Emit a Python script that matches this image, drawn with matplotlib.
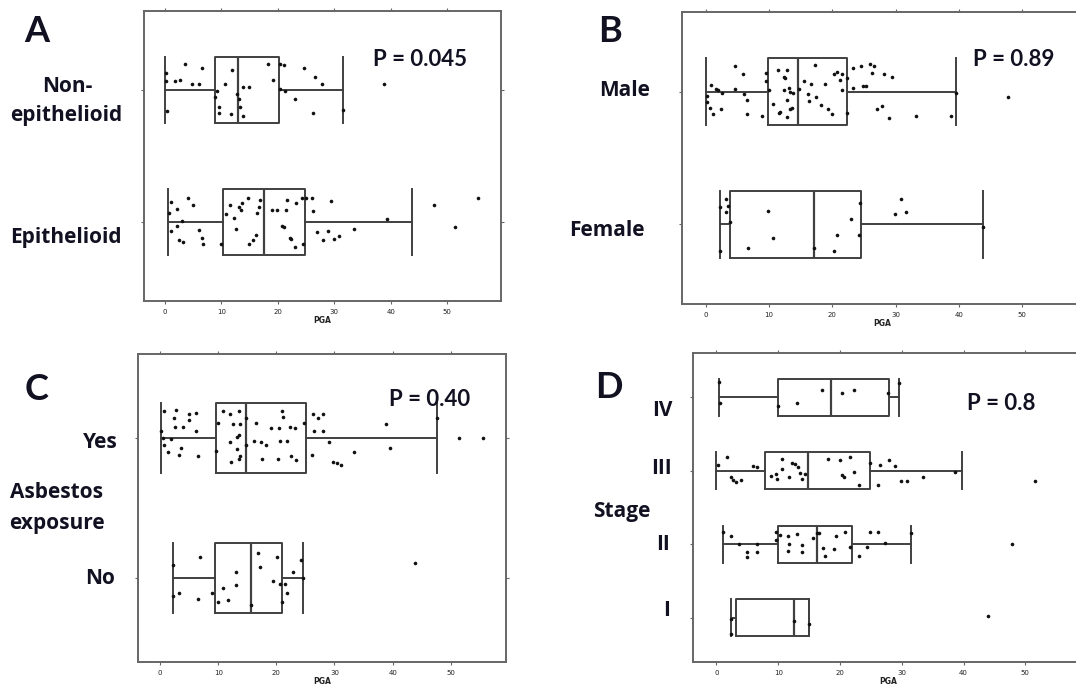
"""PGA by clinical group: four horizontal box plots with jittered patient values."""

import matplotlib
matplotlib.use("Agg")
import matplotlib.pyplot as plt
import numpy as np

W, H = 1076, 693

# box stats per group: [lower whisker, Q1, median, Q3, upper whisker]
A_EPI_BOX = [0.6, 10.3, 17.5, 24.8, 43.7]
A_EPI_X = [1.0, 0.8, 2.2, 4.0, 4.9, 3.1, 1.1, 2.2, 2.5, 3.2, 6.0, 6.5, 6.8, 9.9, 11.6, 10.8, 12.2, 12.5,
           13.1, 13.5, 13.7, 14.7, 14.9, 15.6, 16.1, 16.3, 16.6, 16.9, 19.0, 19.8, 21.4, 21.6, 23.2, 20.8,
           21.0, 22.2, 22.4, 23.1, 24.4, 24.2, 24.9, 26.1, 26.3, 26.9, 27.9, 28.9, 29.4, 29.9, 30.9, 33.4,
           39.4, 47.6, 55.4, 51.4]
A_EPI_JIT = [0.15, 0.07, 0.10, 0.18, 0.13, 0.01, -0.07, -0.03, -0.14, -0.15, -0.06, -0.12, -0.17, -0.17,
             0.13, 0.06, 0.03, -0.05, 0.11, 0.09, 0.14, 0.18, -0.17, -0.14, -0.10, 0.07, 0.11, 0.17, 0.09,
             0.09, 0.09, 0.17, 0.14, -0.03, -0.04, -0.12, -0.13, -0.19, -0.17, 0.18, 0.18, 0.18, 0.08,
             -0.08, -0.14, -0.07, 0.16, -0.13, -0.11, -0.05, 0.02, 0.13, 0.18, -0.04]

A_NON_BOX = [0.0, 8.8, 12.9, 20.2, 31.5]
A_NON_X = [3.6, 6.5, 0.1, 0.1, 1.7, 2.6, 4.8, 6.0, 0.4, 11.9, 10.7, 9.2, 8.9, 12.8, 13.1, 9.5, 9.5, 11.7,
           13.2, 13.9, 13.9, 14.8, 18.2, 20.3, 21.0, 19.2, 20.4, 21.2, 23.0, 24.6, 26.5, 27.8, 26.2, 31.5,
           38.8]
A_NON_JIT = [0.20, 0.17, 0.13, 0.07, 0.07, 0.08, 0.05, 0.05, -0.16, 0.15, 0.05, -0.01, -0.05, -0.03, -0.07,
             -0.13, -0.17, -0.18, -0.13, -0.20, 0.02, 0.02, 0.20, 0.20, 0.19, 0.08, 0.01, -0.01, -0.07,
             0.17, 0.10, 0.05, -0.17, -0.15, 0.05]

B_FEM_BOX = [2.2, 3.9, 17.1, 24.5, 43.8]
B_FEM_X = [2.3, 3.2, 3.2, 3.6, 3.8, 2.2, 9.9, 10.7, 6.7, 17.1, 20.3, 20.7, 22.9, 24.4, 24.3, 29.9, 30.9,
           31.6, 43.8]
B_FEM_JIT = [0.13, 0.19, 0.09, 0.14, 0.02, -0.20, 0.10, -0.10, -0.18, -0.18, -0.20, -0.08, 0.04, 0.16,
             -0.08, 0.08, 0.19, 0.09, -0.02]

B_MALE_BOX = [0.05, 9.8, 14.6, 22.4, 39.6]
B_MALE_X = [4.7, 5.9, 0.8, 1.7, 2.0, 2.6, 0.2, 0.2, 0.7, 1.1, 2.4, 4.7, 6.1, 6.5, 6.5, 8.9, 9.6, 9.6, 10.0,
            10.7, 11.5, 12.3, 12.6, 12.9, 12.4, 13.2, 13.4, 12.9, 13.7, 13.3, 11.8, 11.6, 12.9, 13.8, 14.7,
            15.6, 16.7, 17.3, 16.2, 16.4, 17.5, 18.2, 18.8, 19.4, 20.0, 20.3, 20.8, 21.2, 21.5, 21.6, 22.4,
            22.4, 23.2, 23.3, 24.6, 24.9, 25.3, 25.9, 26.2, 26.6, 28.1, 29.5, 27.0, 27.9, 28.9, 33.3, 38.8,
            39.5, 47.8]
B_MALE_JIT = [0.19, 0.13, 0.05, 0.02, 0.01, -0.01, -0.03, -0.08, -0.12, -0.17, -0.13, 0.02, -0.02, -0.06,
              -0.17, -0.18, 0.14, 0.08, 0.01, -0.09, 0.16, 0.11, 0.10, 0.16, 0.01, 0.03, 0.0, -0.06, -0.12,
              -0.13, -0.15, -0.16, -0.19, -0.01, 0.02, 0.08, 0.06, 0.20, -0.02, -0.07, -0.04, -0.10, 0.06,
              -0.13, -0.17, 0.13, 0.15, 0.09, 0.13, 0.01, 0.10, -0.16, 0.03, 0.18, 0.19, 0.04, 0.04, 0.21,
              0.14, 0.19, 0.13, 0.11, -0.13, -0.11, -0.20, -0.18, -0.18, -0.01, -0.04]

C_NO_BOX = [2.2, 9.5, 15.6, 20.9, 24.5]
C_NO_X = [2.3, 2.2, 3.3, 6.8, 6.6, 8.9, 9.9, 10.8, 11.6, 13.1, 13.1, 15.7, 16.8, 17.2, 20.1, 19.4, 20.6,
          21.5, 21.8, 20.9, 22.9, 24.3, 24.5, 43.9]
C_NO_JIT = [0.09, -0.13, -0.11, 0.15, -0.15, -0.11, -0.17, -0.07, -0.16, 0.04, -0.05, -0.19, 0.18, 0.08,
            0.15, -0.02, -0.04, -0.04, -0.11, -0.17, 0.04, 0.13, 0.0, 0.11]

C_YES_BOX = [0.1, 9.6, 14.8, 25.1, 47.7]
C_YES_X = [0.6, 2.7, 5.0, 6.1, 2.4, 4.9, 2.5, 4.0, 6.1, 0.2, 0.5, 1.8, 0.6, 1.3, 3.3, 3.6, 6.6, 10.0, 10.8,
           12.0, 13.6, 12.5, 13.8, 13.5, 13.2, 12.0, 13.2, 13.8, 13.5, 12.2, 9.6, 14.8, 14.8, 16.5, 16.2,
           17.4, 18.2, 17.5, 19.1, 20.4, 20.2, 20.9, 21.2, 20.6, 21.8, 22.4, 23.2, 22.5, 23.3, 24.7, 26.3,
           27.1, 28.0, 26.5, 28.1, 26.1, 29.0, 29.7, 30.4, 31.2, 33.4, 38.9, 39.6, 47.7, 51.5, 55.5]
C_YES_JIT = [0.19, 0.20, 0.17, 0.18, 0.14, 0.13, 0.08, 0.08, 0.05, 0.05, 0.0, -0.01, -0.05, -0.10, -0.12,
             -0.07, -0.13, 0.11, 0.19, 0.17, 0.19, 0.10, 0.10, 0.02, 0.01, -0.03, -0.08, -0.13, -0.15, -0.17,
             -0.09, 0.14, -0.05, 0.11, -0.02, -0.03, -0.05, -0.15, 0.07, 0.07, -0.15, 0.19, 0.15, -0.02,
             -0.02, 0.08, 0.07, -0.13, -0.16, 0.11, 0.17, 0.14, 0.17, 0.05, 0.05, -0.12, -0.03, -0.17, -0.18,
             -0.19, -0.10, 0.10, -0.07, 0.14, 0.0, 0.0]

D_I_BOX = [2.3, 3.2, 12.5, 14.9, 14.9]
D_I_X = [2.3, 2.3, 12.5, 14.9, 43.9]
D_I_JIT = [-0.22, -0.01, -0.04, -0.09, 0.03]

D_II_BOX = [1.1, 10.0, 16.2, 21.9, 31.5]
D_II_X = [1.1, 2.3, 3.6, 4.9, 4.9, 6.5, 6.5, 9.7, 9.6, 10.3, 11.6, 13.1, 11.7, 13.8, 11.5, 13.8, 16.2, 16.6,
          15.7, 19.3, 20.8, 17.3, 19.0, 17.6, 21.6, 23.1, 24.3, 24.9, 26.2, 27.3, 31.5, 47.8]
D_II_JIT = [0.17, 0.11, 0.0, -0.10, -0.17, -0.11, 0.0, 0.17, 0.06, 0.12, 0.11, 0.14, 0.01, -0.01, -0.09,
            -0.11, 0.15, 0.15, 0.08, 0.11, 0.17, -0.05, -0.07, -0.16, -0.04, -0.16, -0.04, 0.17, 0.17, 0.02,
            0.15, 0.0]

D_III_BOX = [0.0, 7.9, 14.8, 24.9, 39.7]
D_III_X = [1.7, 0.3, 2.3, 2.6, 3.1, 3.9, 5.9, 6.6, 8.8, 9.6, 9.8, 10.6, 10.6, 11.7, 12.2, 12.7, 13.2, 13.5,
           13.9, 14.3, 18.1, 20.0, 21.6, 20.3, 20.6, 22.3, 23.0, 24.9, 26.1, 26.5, 28.0, 28.9, 29.9, 30.9,
           33.5, 38.6, 51.6]
D_III_JIT = [0.18, 0.08, -0.08, -0.12, -0.16, -0.12, 0.07, 0.05, -0.07, -0.05, -0.11, 0.16, 0.03, -0.09,
             0.11, 0.09, 0.05, -0.03, -0.11, -0.05, 0.16, 0.15, 0.19, -0.06, -0.09, -0.02, -0.19, 0.11,
             -0.19, 0.08, 0.14, 0.07, -0.14, -0.14, -0.08, -0.02, -0.14]

D_IV_BOX = [0.4, 10.0, 18.6, 28.0, 29.6]
D_IV_X = [0.4, 0.6, 13.0, 17.1, 20.3, 22.2, 27.8, 29.6, 10.0]
D_IV_JIT = [0.21, -0.08, -0.08, 0.10, 0.05, 0.10, 0.05, 0.19, -0.12]

P_VALUES = ["P = 0.045", "P = 0.89", "P = 0.40", "P = 0.8"]
X_TICKS = [0, 10, 20, 30, 40, 50]

LINE = "#404040"
FRAME = "#666666"
INK = "#111122"
FONT = ["Lato", "DejaVu Sans"]
LABEL_FONT = ["Open Sans", "DejaVu Sans"]


def add_axes_px(fig, left, top, right, bottom):
    return fig.add_axes([left / W, 1 - bottom / H, (right - left) / W, (bottom - top) / H])


def draw_panel(ax, boxes, xs, jits):
    n = len(boxes)
    for pos, (b, x, j) in enumerate(zip(boxes, xs, jits), start=1):
        stats = dict(whislo=b[0], q1=b[1], med=b[2], q3=b[3], whishi=b[4], fliers=[])
        lp = dict(color=LINE, linewidth=1.4)
        ax.bxp([stats], positions=[pos], widths=0.5, capwidths=[0.5], orientation="horizontal",
               showfliers=False, boxprops=lp, whiskerprops=lp, capprops=lp,
               medianprops=dict(color=LINE, linewidth=1.6))
        ax.plot(x, pos + np.asarray(j), "o", ms=2.6, color="#111111", mec="none", zorder=5)
    ax.set_xlim(-3.8, 59.5)
    ax.set_ylim(0.4, n + 0.6)
    ax.set_xticks(X_TICKS)
    ax.set_xticklabels([str(t) for t in X_TICKS])
    ax.set_yticks(range(1, n + 1))
    ax.set_yticklabels([])
    ax.tick_params(axis="x", direction="out", length=2.5, width=0.8, color=FRAME, labelsize=5,
                   labelcolor="#222222", pad=3, top=True, labeltop=False)
    ax.tick_params(axis="y", direction="out", length=2.5, width=0.8, color=FRAME, right=True)
    for s in ax.spines.values():
        s.set_color(FRAME)
        s.set_linewidth(1.4)
    ax.set_xlabel("PGA", fontsize=5.5, fontweight="bold", color="#222222", labelpad=1)


def label(fig, x, y, text, size=15, ha="center", family=LABEL_FONT):
    fig.text(x / W, 1 - y / H, text, ha=ha, va="center", fontsize=size, fontweight="bold",
             color=INK, family=family)


def main():
    fig = plt.figure(figsize=(W / 100, H / 100), dpi=100)

    ax_a = add_axes_px(fig, 143.5, 11, 501, 301)
    draw_panel(ax_a, [A_EPI_BOX, A_NON_BOX], [A_EPI_X, A_NON_X], [A_EPI_JIT, A_NON_JIT])
    ax_b = add_axes_px(fig, 681.6, 12, 1082.3, 304)
    draw_panel(ax_b, [B_FEM_BOX, B_MALE_BOX], [B_FEM_X, B_MALE_X], [B_FEM_JIT, B_MALE_JIT])
    ax_c = add_axes_px(fig, 138, 354, 506, 662)
    draw_panel(ax_c, [C_NO_BOX, C_YES_BOX], [C_NO_X, C_YES_X], [C_NO_JIT, C_YES_JIT])
    ax_d = add_axes_px(fig, 693, 353, 1084, 662)
    draw_panel(ax_d, [D_I_BOX, D_II_BOX, D_III_BOX, D_IV_BOX], [D_I_X, D_II_X, D_III_X, D_IV_X],
               [D_I_JIT, D_II_JIT, D_III_JIT, D_IV_JIT])

    # panel letters
    for letter, x, y in (("A", 37, 31), ("B", 610, 31), ("C", 37, 389), ("D", 609, 387)):
        label(fig, x, y, letter, size=26, family=FONT)

    # group names
    label(fig, 67, 87, "Non-")
    label(fig, 66, 115, "epithelioid")
    label(fig, 66, 237, "Epithelioid")
    label(fig, 650, 91, "Male", ha="right")
    label(fig, 645, 230, "Female", ha="right")
    label(fig, 118, 442, "Yes", ha="right")
    label(fig, 115, 578, "No", ha="right")
    label(fig, 57, 493, "Asbestos")
    label(fig, 57, 523, "exposure")
    label(fig, 673, 410, "IV", ha="right")
    label(fig, 672, 468, "III", ha="right")
    label(fig, 622, 512, "Stage")
    label(fig, 670, 545, "II", ha="right")
    label(fig, 670, 610, "I", ha="right")

    for text, x, y in zip(P_VALUES, (420, 1014, 430, 1001), (60, 60, 400, 403)):
        label(fig, x, y, text, size=16, family=FONT)

    fig.savefig("out.png", dpi=100)
    plt.close(fig)


if __name__ == "__main__":
    main()
